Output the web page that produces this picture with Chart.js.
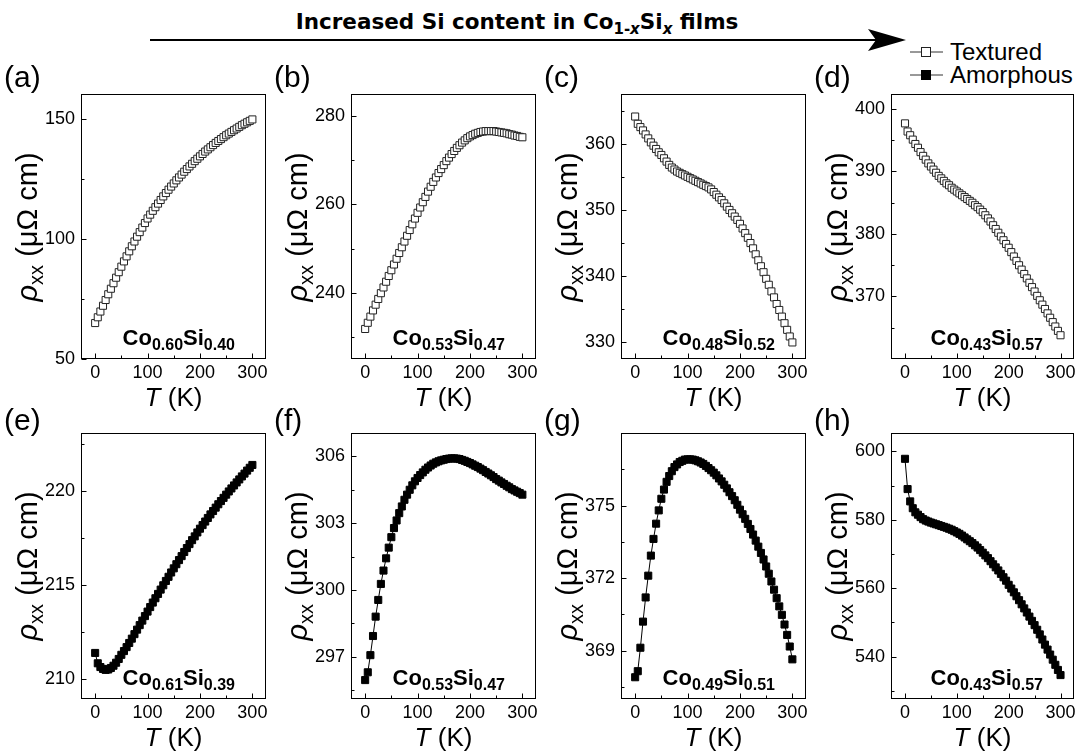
<!DOCTYPE html>
<html><head><meta charset="utf-8">
<script src="https://cdn.jsdelivr.net/npm/chart.js@4"></script>
<style>
body{margin:0;width:1075px;height:751px;background:#fff;position:relative;overflow:hidden;font-family:"Liberation Sans",Arial,sans-serif;color:#000}
canvas{position:absolute}
.plab{position:absolute;font-size:30px;line-height:30px;white-space:nowrap}
.ytitle{position:absolute;font-size:29px;line-height:32px;white-space:nowrap;transform:translate(-50%,-50%) rotate(-90deg)}
.ytitle sub{font-size:20px;vertical-align:-6px;line-height:0}
.xtitle{position:absolute;font-size:26px;line-height:30px;white-space:nowrap;transform:translate(-50%,-50%)}
.comp{position:absolute;font-weight:bold;font-size:22px;line-height:22px;white-space:nowrap;transform:translateX(-100%)}
.comp sub{font-size:16px;vertical-align:-5px;line-height:0}
.head{position:absolute;font-family:"DejaVu Sans",sans-serif;font-weight:bold;font-size:21.5px;line-height:22px;white-space:nowrap;transform:translateX(-50%)}
.head sub{font-size:15px;vertical-align:-5px;line-height:0}
.leg{position:absolute;font-size:24px;line-height:24px;white-space:nowrap}
</style></head>
<body>
<svg width="1075" height="100" style="position:absolute;left:0;top:0">
  <line x1="150" y1="40" x2="880" y2="40" stroke="#000" stroke-width="2"/>
  <polygon points="868,29 906,40 868,51 876,40" fill="#000"/>
  <line x1="910" y1="52" x2="943" y2="52" stroke="#333" stroke-width="1"/>
  <rect x="921.5" y="47.5" width="9" height="9" fill="#fff" stroke="#222" stroke-width="1"/>
  <line x1="910" y1="75" x2="943" y2="75" stroke="#333" stroke-width="1"/>
  <rect x="921.5" y="70.5" width="9" height="9" fill="#000" stroke="#000" stroke-width="1"/>
</svg>
<div class="head" style="left:517px;top:11px">Increased Si content in Co<sub>1-<i>x</i></sub>Si<sub><i>x</i></sub> films</div>
<div class="leg" style="left:950px;top:40px">Textured</div>
<div class="leg" style="left:950px;top:63px">Amorphous</div>
<script>
// ---- data ----
const temps = [0,5,10,15,20,25,30,35,40,45,50,55,60,65,70,75,80,85,90,95,100,105,110,115,120,125,130,135,140,145,150,155,160,165,170,175,180,185,190,195,200,205,210,215,220,225,230,235,240,245,250,255,260,265,270,275,280,285,290,295,300];

const rhoA = [65.0,67.4,69.8,72.2,74.6,77.0,79.3,81.6,83.9,86.2,
  88.5,90.7,92.8,94.9,97.0,99.0,101.0,102.9,104.8,106.7,
  108.6,110.2,111.8,113.3,114.8,116.3,117.8,119.2,120.6,121.9,
  123.2,124.5,125.7,126.9,128.1,129.2,130.3,131.4,132.5,133.5,
  134.5,135.5,136.5,137.4,138.3,139.2,140.1,140.9,141.7,142.5,
  143.3,144.0,144.7,145.4,146.1,146.8,147.5,148.1,148.7,149.3,
  149.9];
const rhoB = [231.8,233.2,234.6,236.0,237.3,238.6,239.9,241.2,242.5,243.8,
  245.1,246.4,247.7,249.0,250.3,251.6,252.9,254.2,255.5,256.8,
  258.1,259.3,260.5,261.7,262.9,264.0,265.1,266.1,267.1,268.0,
  268.9,269.8,270.6,271.4,272.1,272.8,273.4,274.0,274.5,275.0,
  275.4,275.7,276.0,276.2,276.4,276.5,276.6,276.6,276.6,276.6,
  276.5,276.4,276.3,276.2,276.1,275.9,275.8,275.6,275.5,275.3,
  275.2];
const rhoC = [364.1,363.0,362.5,362.0,361.4,360.8,360.2,359.7,359.2,358.7,
  358.3,357.8,357.3,356.8,356.4,356.1,355.8,355.6,355.4,355.2,
  355.0,354.8,354.6,354.4,354.2,354.0,353.8,353.6,353.4,353.1,
  352.7,352.3,351.9,351.5,351.0,350.5,350.0,349.5,349.0,348.5,
  347.9,347.2,346.5,345.8,345.0,344.2,343.3,342.4,341.5,340.6,
  339.6,338.7,337.7,336.8,335.8,334.9,333.9,332.9,331.9,330.9,
  330.0];
const rhoD = [397.7,396.4,395.8,395.1,394.4,393.8,393.1,392.5,391.9,391.3,
  390.8,390.3,389.8,389.3,388.9,388.5,388.1,387.8,387.4,387.1,
  386.8,386.5,386.2,385.9,385.6,385.3,385.0,384.6,384.3,383.9,
  383.5,383.0,382.5,382.0,381.4,380.8,380.2,379.6,379.0,378.4,
  377.8,377.1,376.4,375.7,375.0,374.3,373.6,372.9,372.2,371.5,
  370.8,370.1,369.4,368.7,368.0,367.3,366.6,365.9,365.2,364.5,
  363.8];
const rhoE = [211.4,210.85,210.65,210.55,210.5,210.52,210.6,210.72,210.88,211.08,
  211.3,211.5,211.71,211.93,212.16,212.4,212.64,212.88,213.12,213.36,
  213.6,213.84,214.08,214.31,214.54,214.77,215.0,215.23,215.45,215.68,
  215.9,216.12,216.34,216.55,216.77,216.98,217.19,217.4,217.6,217.81,
  218.01,218.2,218.39,218.58,218.77,218.95,219.13,219.31,219.48,219.65,
  219.82,219.99,220.15,220.31,220.47,220.63,220.79,220.94,221.1,221.25,
  221.4];
const rhoF = [295.95,296.3,297.07,297.93,298.8,299.55,300.27,300.87,301.42,301.9,
  302.37,302.78,303.12,303.45,303.75,304.05,304.28,304.5,304.7,304.88,
  305.03,305.16,305.28,305.4,305.5,305.59,305.67,305.73,305.78,305.82,
  305.85,305.88,305.9,305.91,305.91,305.9,305.88,305.84,305.8,305.75,
  305.7,305.64,305.58,305.52,305.45,305.38,305.3,305.23,305.15,305.07,
  304.98,304.91,304.83,304.76,304.68,304.61,304.53,304.47,304.41,304.35,
  304.28];
const rhoG = [367.9,368.15,369.12,370.2,371.2,372.1,372.93,373.62,374.25,374.8,
  375.28,375.66,375.98,376.22,376.42,376.59,376.7,376.8,376.85,376.9,
  376.91,376.91,376.9,376.87,376.83,376.78,376.72,376.64,376.55,376.46,
  376.36,376.25,376.12,376.0,375.86,375.71,375.55,375.39,375.22,375.03,
  374.83,374.64,374.45,374.24,374.03,373.8,373.55,373.3,373.04,372.77,
  372.48,372.18,371.86,371.52,371.17,370.83,370.48,370.08,369.65,369.17,
  368.64];
const rhoH = [597.85,589.0,585.4,583.4,582.2,581.5,580.8,580.2,579.8,579.5,
  579.2,578.95,578.7,578.45,578.2,577.95,577.7,577.4,577.1,576.7,
  576.3,575.9,575.4,574.85,574.3,573.75,573.2,572.55,571.9,571.15,
  570.4,569.6,568.8,567.9,567.0,566.1,565.2,564.2,563.2,562.2,
  561.0,559.9,558.8,557.65,556.5,555.3,554.1,552.9,551.7,550.45,
  549.2,547.85,546.5,545.0,543.5,542.05,540.6,539.1,537.6,536.1,
  534.6];

const xTicks = [0,100,200,300];
const xRange = [-27, 326];
const yTicksA = [50,100,150],  yRangeA = [50,160.5];
const yTicksB = [240,260,280], yRangeB = [225,285];
const yTicksC = [330,340,350,360], yRangeC = [327.5,367.5];
const yTicksD = [370,380,390,400], yRangeD = [360,402.4];
const yTicksE = [210,215,220], yRangeE = [208.95,223.1];
const yTicksF = [297,300,303,306], yRangeF = [295.1,307.05];
const yTicksG = [369,372,375], yRangeG = [367,378];
const yTicksH = [540,560,580,600], yRangeH = [527.6,605.4];

const panelLetters = ['(a)','(b)','(c)','(d)','(e)','(f)','(g)','(h)'];
const compCo = ['0.60','0.53','0.48','0.43','0.61','0.53','0.49','0.43'];
const compSi = ['0.40','0.47','0.52','0.57','0.39','0.47','0.51','0.57'];
const filmTypes = ['Textured','Textured','Textured','Textured','Amorphous','Amorphous','Amorphous','Amorphous'];

// ---- layout ----
const plotLefts = [81,351,621,891];
const plotRights = [266,536,806,1074];
const rowTops = [94,433];
const rowBottoms = [359,699];
const labelTops = [62,405];

const series = [rhoA,rhoB,rhoC,rhoD,rhoE,rhoF,rhoG,rhoH];
const yTickSets = [yTicksA,yTicksB,yTicksC,yTicksD,yTicksE,yTicksF,yTicksG,yTicksH];
const yRanges = [yRangeA,yRangeB,yRangeC,yRangeD,yRangeE,yRangeF,yRangeG,yRangeH];

const framePlugin = {
  id:'frame',
  afterDraw(chart){
    const {ctx, chartArea:a, scales:{x,y}} = chart;
    ctx.save();
    ctx.strokeStyle = '#000'; ctx.lineWidth = 1;
    const L = Math.round(a.left)+0.5, T = Math.round(a.top)+0.5, R = Math.round(a.right)-0.5, B = Math.round(a.bottom)-0.5;
    ctx.strokeRect(L, T, R-L, B-T);
    const line = (x1,y1,x2,y2)=>{ctx.beginPath();ctx.moveTo(x1,y1);ctx.lineTo(x2,y2);ctx.stroke();};
    const drawAxis = (scale, horiz) => {
      const vals = scale.ticks.map(t=>t.value);
      const step = vals[1]-vals[0];
      const minors = [];
      vals.forEach(v=>{ minors.push(v+step/2); });
      minors.push(vals[0]-step/2);
      vals.forEach(v=>{
        const p = Math.round(scale.getPixelForValue(v))+0.5;
        if (horiz) line(p,B,p,B-5); else line(L,p,L+5,p);
      });
      minors.forEach(v=>{
        if (v < scale.min || v > scale.max) return;
        const p = Math.round(scale.getPixelForValue(v))+0.5;
        if (horiz) line(p,B,p,B-3); else line(L,p,L+3,p);
      });
    };
    drawAxis(x,true); drawAxis(y,false);
    ctx.restore();
  }
};

const L0 = 50, T0 = 22, R0 = 6, B0 = 34;
function makePanel(i){
  const col = i%4, row = Math.floor(i/4);
  const pl = plotLefts[col], pr = plotRights[col], pt = rowTops[row], pb = rowBottoms[row];
  const w = L0 + (pr-pl) + R0, h = T0 + (pb-pt) + B0;
  const cv = document.createElement('canvas');
  cv.width = w; cv.height = h;
  cv.style.left = (pl-L0)+'px'; cv.style.top = (pt-T0)+'px';
  cv.style.width = w+'px'; cv.style.height = h+'px';
  document.body.appendChild(cv);
  const amorph = filmTypes[i] === 'Amorphous';
  const vals = series[i];
  new Chart(cv, {
    type:'scatter',
    data:{datasets:[{
      label: filmTypes[i],
      data: temps.map((t,k)=>({x:t, y:vals[k]})),
      showLine:true,
      borderColor: amorph ? '#000' : '#444',
      borderWidth: 1,
      pointStyle:'rect',
      pointRadius: 5,
      pointBorderWidth: 1,
      pointBackgroundColor: amorph ? '#000' : '#fff',
      pointBorderColor: amorph ? '#000' : '#222'
    }]},
    options:{
      responsive:false, animation:false, devicePixelRatio:1,
      layout:{padding:{top:T0,right:R0,left:0,bottom:0}},
      plugins:{legend:{display:false}, tooltip:{enabled:false}},
      scales:{
        x:{type:'linear', min:xRange[0], max:xRange[1],
           afterBuildTicks:s=>{s.ticks = xTicks.map(v=>({value:v}));},
           afterFit:s=>{s.height = B0;},
           grid:{display:false, drawTicks:false}, border:{display:false},
           ticks:{padding:3, color:'#000', font:{family:'"Liberation Sans", Arial, sans-serif', size:18}, maxRotation:0, autoSkip:false}},
        y:{type:'linear', min:yRanges[i][0], max:yRanges[i][1],
           afterBuildTicks:s=>{s.ticks = yTickSets[i].map(v=>({value:v}));},
           afterFit:s=>{s.width = L0;},
           grid:{display:false, drawTicks:false}, border:{display:false},
           ticks:{padding:6, color:'#000', font:{family:'"Liberation Sans", Arial, sans-serif', size:18}, autoSkip:false}}
      }
    },
    plugins:[framePlugin]
  });
  // texts
  const lab = document.createElement('div');
  lab.className='plab'; lab.textContent = panelLetters[i];
  lab.style.left = (pl-77)+'px'; lab.style.top = labelTops[row]+'px';
  document.body.appendChild(lab);
  const yt = document.createElement('div');
  yt.className='ytitle';
  yt.innerHTML = '<i>\u03c1</i><sub>xx</sub> (\u03bc\u03a9 cm)';
  yt.style.left = (pl-54)+'px'; yt.style.top = ((pt+pb)/2)+'px';
  document.body.appendChild(yt);
  const xt = document.createElement('div');
  xt.className='xtitle';
  xt.innerHTML = '<i>T</i> (K)';
  xt.style.left = ((pl+pr)/2)+'px'; xt.style.top = (pb+38)+'px';
  document.body.appendChild(xt);
  const cp = document.createElement('div');
  cp.className='comp';
  cp.innerHTML = 'Co<sub>'+compCo[i]+'</sub>Si<sub>'+compSi[i]+'</sub>';
  cp.style.left = (pr-31)+'px'; cp.style.top = (pb-32)+'px';
  document.body.appendChild(cp);
}
for (let i=0;i<8;i++) makePanel(i);
</script>
</body></html>
